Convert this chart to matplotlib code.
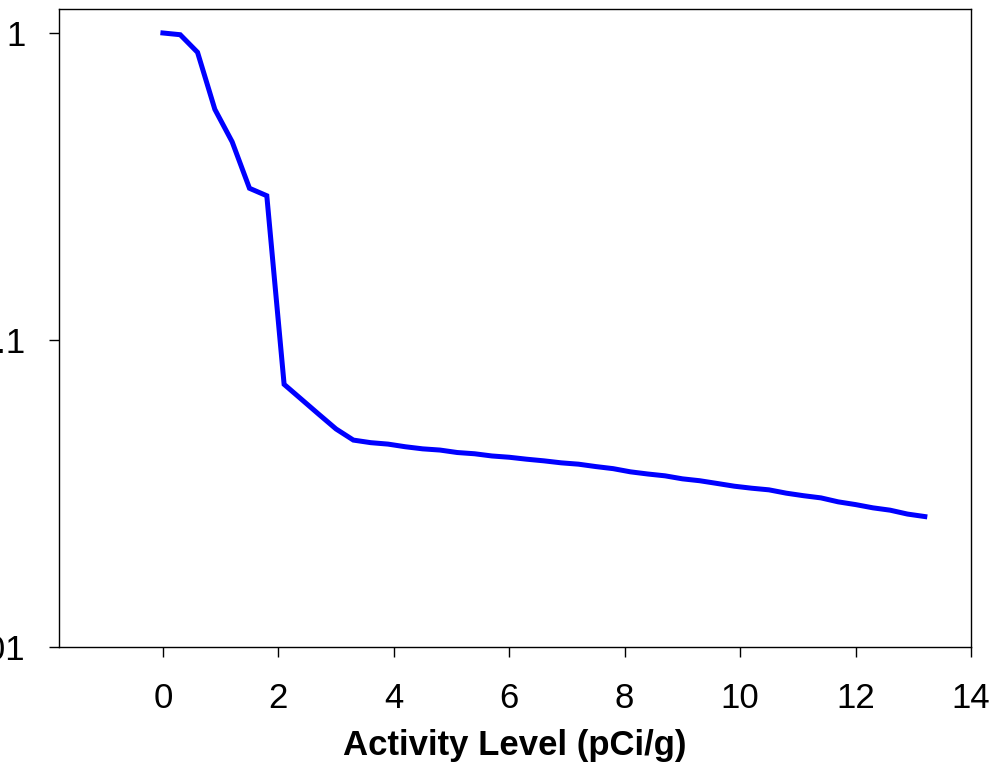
import matplotlib
matplotlib.use("Agg")
import matplotlib.pyplot as plt
from matplotlib.ticker import FixedLocator, FixedFormatter, NullLocator

plt.rcParams["font.family"] = ["Liberation Sans", "DejaVu Sans"]

# activity level (pCi/g) and fraction remaining
activity = [0.0, 0.3, 0.6, 0.9, 1.2, 1.5, 1.8, 2.1, 2.4, 2.7, 3.0, 3.3, 3.6, 3.9,
            4.2, 4.5, 4.8, 5.1, 5.4, 5.7, 6.0, 6.3, 6.6, 6.9, 7.2, 7.5, 7.8, 8.1,
            8.4, 8.7, 9.0, 9.3, 9.6, 9.9, 10.2, 10.5, 10.8, 11.1, 11.4, 11.7,
            12.0, 12.3, 12.6, 12.9, 13.2]
fraction = [1.0, 0.987, 0.865, 0.564, 0.442, 0.312, 0.295, 0.0717, 0.0641, 0.0573,
            0.0513, 0.0472, 0.0463, 0.0458, 0.0449, 0.0442, 0.0438, 0.0430, 0.0426,
            0.0419, 0.0415, 0.0409, 0.0404, 0.0398, 0.0394, 0.0387, 0.0381, 0.0372,
            0.0366, 0.0361, 0.0353, 0.0348, 0.0341, 0.0334, 0.0329, 0.0325, 0.0317,
            0.0311, 0.0306, 0.0297, 0.0291, 0.0284, 0.0279, 0.0271, 0.0266]

x_ticks = [0, 2, 4, 6, 8, 10, 12, 14]
y_ticks = [0.01, 0.1, 1]
y_tick_labels = ["0.01", "0.1", "1"]

fig = plt.figure(figsize=(9.93, 7.77), dpi=100)
ax = fig.add_axes([59 / 993, 1 - 647 / 777, 912 / 993, 638 / 777])

ax.plot(activity, fraction, color="#0000ff", lw=3.6, solid_joinstyle="miter")

ax.set_yscale("log")
ax.set_xlim(-1.8, 14)
ax.set_ylim(0.01, 1.197)
ax.xaxis.set_major_locator(FixedLocator(x_ticks))
ax.yaxis.set_major_locator(FixedLocator(y_ticks))
ax.yaxis.set_major_formatter(FixedFormatter(y_tick_labels))
ax.yaxis.set_minor_locator(NullLocator())

ax.tick_params(axis="both", direction="out", length=7, width=1, labelsize=25)
ax.tick_params(axis="x", pad=18)
ax.tick_params(axis="y", pad=17)
for s in ax.spines.values():
    s.set_linewidth(1)

ax.set_xlabel("Activity Level (pCi/g)", fontsize=25, fontweight="bold", labelpad=10)

fig.savefig("out.png", dpi=100)
